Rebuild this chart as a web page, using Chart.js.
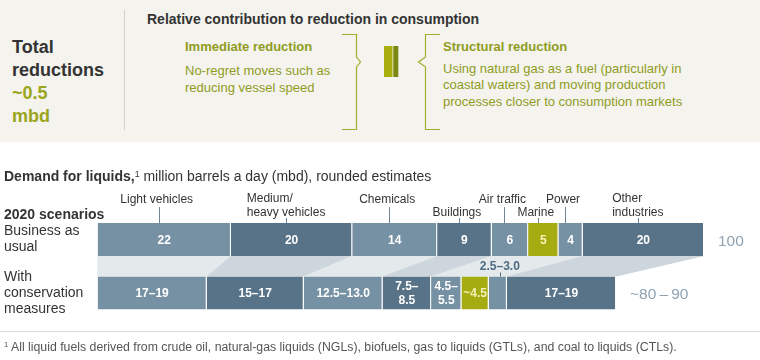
<!DOCTYPE html>
<html><head><meta charset="utf-8">
<script src="https://cdn.jsdelivr.net/npm/chart.js@4.4.1/dist/chart.umd.min.js"></script>
<style>
html,body{margin:0;padding:0;background:#fff;}
#wrap{position:relative;width:760px;height:360px;overflow:hidden;font-family:"Liberation Sans",Arial,Helvetica,sans-serif;color:#333;}
#c{position:absolute;left:0;top:0;}
#panel{position:absolute;left:0;top:0;width:760px;height:142px;background:#f4f3ee;}
.t{position:absolute;white-space:nowrap;margin:0;}
.b{font-weight:bold;}
.ol{color:#909c1e;}
.sup{font-size:0.62em;position:relative;top:-0.5em;}
</style></head><body>
<div id="wrap">
<canvas id="c" width="760" height="360"></canvas>
<div id="panel">
 <svg width="760" height="142" style="position:absolute;left:0;top:0">
  <line x1="124.5" y1="10" x2="124.5" y2="130" stroke="#d3d0c8" stroke-width="1"/>
  <path d="M342 34.5 H356.5 V57 L360.5 62 L356.5 67 V129.5 H342" fill="none" stroke="#a3ad2c" stroke-width="1.2"/>
  <path d="M440 34.5 H425.5 V57 L418.5 62 L425.5 67 V129.5 H440" fill="none" stroke="#a3ad2c" stroke-width="1.2"/>
  <rect x="384" y="46" width="8.5" height="31" fill="#a7ae0d"/>
  <rect x="393.3" y="46" width="5" height="31" fill="#7b8711"/>
 </svg>
 <div class="t b" style="left:12px;top:35.5px;font-size:18px;line-height:23px;">Total<br>reductions<br><span style="color:#9aa51b">~0.5<br>mbd</span></div>
 <div class="t b" style="left:147px;top:11px;font-size:14px;line-height:16px;">Relative contribution to reduction in consumption</div>
 <div class="t b ol" style="left:185px;top:39px;font-size:13px;line-height:16px;">Immediate reduction</div>
 <div class="t ol" style="left:185px;top:61.5px;font-size:13px;line-height:17px;">No-regret moves such as<br>reducing vessel speed</div>
 <div class="t b ol" style="left:443px;top:39px;font-size:13px;line-height:16px;">Structural reduction</div>
 <div class="t ol" style="left:443px;top:60.7px;font-size:13px;line-height:16.6px;">Using natural gas as a fuel (particularly in<br>coastal waters) and moving production<br>processes closer to consumption markets</div>
</div>
<div class="t" style="left:4px;top:168px;font-size:14px;line-height:16px;"><b>Demand for liquids,</b><span class="sup">1</span> million barrels a day (mbd), rounded estimates</div>
<div class="t b" style="left:4px;top:206px;font-size:14px;line-height:16px;">2020 scenarios</div>
<div style="position:absolute;left:0;top:331px;width:760px;height:1px;background:#dcdcdc"></div>
<div class="t" style="left:4px;top:340px;font-size:12.3px;line-height:14px;color:#555"><span class="sup">1</span> All liquid fuels derived from crude oil, natural-gas liquids (NGLs), biofuels, gas to liquids (GTLs), and coal to liquids (CTLs).</div>
</div>
<script>
// ---- data ----
const categories = [['Business as', 'usual'], ['With', 'conservation', 'measures']];
const sectors = ['Light vehicles', 'Medium/heavy vehicles', 'Chemicals', 'Buildings', 'Air traffic', 'Marine', 'Power', 'Other industries'];
const sectorLabelLines = [['Light vehicles'], ['Medium/', 'heavy vehicles'], ['Chemicals'], ['Buildings'], ['Air traffic'], ['Marine'], ['Power'], ['Other', 'industries']];
const businessAsUsual = [22, 20, 14, 9, 6, 5, 4, 20];
const withConservation = [18, 16, 13, 8, 5, 4.5, 3, 18];
const businessLabels = ['22', '20', '14', '9', '6', '5', '4', '20'];
const conservationLabels = ['17–19', '15–17', '12.5–13.0', '7.5–\n8.5', '4.5–\n5.5', '~4.5', '', '17–19'];
const calloutLabels = ['', '', '', '', '', '', '2.5–3.0', ''];
const totalLabels = ['100', '~80\u2009–\u200990'];

// ---- styles ----
const LIGHT = '#7791a4', DARK = '#587387', OLIVE = '#a5ac12';
const barColors = [LIGHT, DARK, LIGHT, DARK, LIGHT, OLIVE, LIGHT, DARK];
const connColors = ['#e4e9ec', '#cdd6dc', '#e4e9ec', '#cdd6dc', '#e4e9ec', '#e4e9ec', '#e4e9ec', '#cdd6dc'];
const valueColors = ['#fff', '#fff', '#fff', '#fff', '#fff', '#f4f2b4', '#fff', '#fff'];
const lowered = [false, false, false, true, false, true, false, false];
const FONT = '"Liberation Sans", Arial, Helvetica, sans-serif';
Chart.defaults.font.family = FONT;

const annot = {
  id: 'annot',
  beforeDatasetsDraw(chart) {
    const ctx = chart.ctx;
    const n = chart.data.datasets.length;
    const metas = chart.data.datasets.map((d, i) => chart.getDatasetMeta(i));
    const t0 = metas[0].data[0], b0 = metas[0].data[1];
    const tl = metas[n - 1].data[0], bl = metas[n - 1].data[1];
    const y1 = t0.y + t0.height / 2, y2 = b0.y - b0.height / 2;
    ctx.save();
    ctx.fillStyle = '#e4e9ec';
    ctx.beginPath();
    ctx.moveTo(t0.base, y1); ctx.lineTo(tl.x, y1); ctx.lineTo(bl.x, y2); ctx.lineTo(b0.base, y2);
    ctx.closePath(); ctx.fill();
    metas.forEach((m, i) => {
      const t = m.data[0], b = m.data[1];
      ctx.fillStyle = chart.data.datasets[i].connectorColor;
      ctx.beginPath();
      ctx.moveTo(t.base, y1); ctx.lineTo(t.x, y1); ctx.lineTo(b.x, y2); ctx.lineTo(b.base, y2);
      ctx.closePath(); ctx.fill();
    });
    ctx.restore();
  },
  afterDatasetsDraw(chart) {
    const ctx = chart.ctx;
    ctx.save();
    chart.data.datasets.forEach((ds, i) => {
      const m = chart.getDatasetMeta(i);
      [businessLabels[i], conservationLabels[i]].forEach((lab, j) => {
        if (!lab) return;
        const el = m.data[j];
        const cx = (el.x + el.base) / 2;
        const lines = lab.split('\n');
        ctx.font = 'bold 12px ' + FONT;
        ctx.fillStyle = ds.valueColor;
        ctx.textAlign = 'center';
        ctx.textBaseline = 'middle';
        lines.forEach((ln, k) => {
          ctx.fillText(ln, cx, el.y + 1 + (k - (lines.length - 1) / 2) * 14);
        });
      });
      const t = m.data[0];
      const top = t.y - t.height / 2;
      const tx = (t.x + t.base) / 2 - 5.5;
      const lines = sectorLabelLines[i];
      const low = lowered[i] || lines.length > 1;
      const lastY = top - (low ? 10 : 23);
      ctx.strokeStyle = '#6f8595';
      ctx.lineWidth = 1;
      ctx.beginPath();
      ctx.moveTo(Math.round(tx) + 0.5, lastY + (low ? 5 : 7));
      ctx.lineTo(Math.round(tx) + 0.5, top);
      ctx.stroke();
      ctx.font = '12px ' + FONT;
      ctx.fillStyle = '#333';
      ctx.textBaseline = 'middle';
      if (lines.length > 1) {
        const w = Math.max(...lines.map(l => ctx.measureText(l).width));
        ctx.textAlign = 'left';
        lines.forEach((ln, k) => ctx.fillText(ln, tx - w / 2, lastY - (lines.length - 1 - k) * 14));
      } else {
        ctx.textAlign = 'center';
        ctx.fillText(lines[0], tx - 2, lastY);
      }
      if (calloutLabels[i]) {
        const b = m.data[1];
        const btop = b.y - b.height / 2;
        const bx = (b.x + b.base) / 2 + 2;
        ctx.beginPath();
        ctx.moveTo(Math.round(bx) + 0.5, btop - 4);
        ctx.lineTo(Math.round(bx) + 0.5, btop);
        ctx.strokeStyle = '#4f6b80';
        ctx.stroke();
        ctx.font = 'bold 12px ' + FONT;
        ctx.fillStyle = '#4f6b80';
        ctx.textAlign = 'center';
        ctx.fillText(calloutLabels[i], bx, btop - 10);
      }
    });
    const last = chart.getDatasetMeta(chart.data.datasets.length - 1);
    totalLabels.forEach((lab, j) => {
      const el = last.data[j];
      ctx.font = '15.5px ' + FONT;
      ctx.fillStyle = '#8ea2b2';
      ctx.textAlign = 'left';
      ctx.textBaseline = 'middle';
      ctx.fillText(lab, el.x + 14, el.y + 2);
    });
    ctx.restore();
  }
};

const datasets = sectors.map((s, i) => ({
  label: s,
  data: [businessAsUsual[i], withConservation[i]],
  backgroundColor: barColors[i],
  borderColor: '#ffffff',
  borderWidth: { top: 0, right: 1, bottom: 0, left: 0 },
  borderSkipped: false,
  connectorColor: connColors[i],
  valueColor: valueColors[i],
  categoryPercentage: 1,
  barPercentage: 0.617
}));

new Chart(document.getElementById('c'), {
  type: 'bar',
  data: { labels: categories, datasets },
  options: {
    indexAxis: 'y',
    responsive: false,
    devicePixelRatio: 1,
    animation: false,
    events: [],
    layout: { padding: { left: 4, right: 56, top: 212.75, bottom: 40.25 } },
    plugins: { legend: { display: false }, tooltip: { enabled: false } },
    scales: {
      x: { type: 'linear', stacked: true, min: 0, max: 100, display: false },
      y: {
        type: 'category', stacked: true,
        grid: { display: false }, border: { display: false },
        ticks: { crossAlign: 'far', color: '#333', font: { size: 14, lineHeight: 16 / 14 }, autoSkip: false },
        afterFit(s) { s.width = 93.5; }
      }
    }
  },
  plugins: [annot]
});
</script>
</body></html>
